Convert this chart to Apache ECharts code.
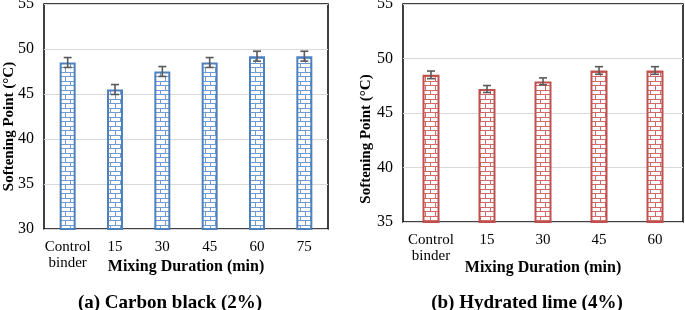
<!DOCTYPE html>
<html><head><meta charset="utf-8">
<script src="https://cdn.jsdelivr.net/npm/echarts@6/dist/echarts.min.js"></script>
<style>html,body{margin:0;padding:0;background:#fff}#c{width:685px;height:310px}</style>
</head><body><div id="c"></div>
<script>
const categoriesA = ['Control\nbinder', '15', '30', '45', '60', '75'];
const valuesA = [48.5, 45.5, 47.5, 48.5, 49.2, 49.2];
const errorsA = [0.55, 0.55, 0.55, 0.55, 0.55, 0.55];
const categoriesB = ['Control\nbinder', '15', '30', '45', '60'];
const valuesB = [48.5, 47.2, 47.9, 48.9, 48.9];
const errorsB = [0.35, 0.32, 0.32, 0.35, 0.35];
const yTicksA = [30, 35, 40, 45, 50, 55];
const yTicksB = [35, 40, 45, 50, 55];
const xTitle = 'Mixing Duration (min)';
const yTitle = 'Softening Point (°C)';
const captionA = '(a) Carbon black (2%)';
const captionB = '(b) Hydrated lime (4%)';

const FONT = 'Liberation Serif';

function brick(color) {
  const c = document.createElement('canvas');
  c.width = 10; c.height = 9;
  const g = c.getContext('2d');
  g.fillStyle = '#fff'; g.fillRect(0, 0, 10, 9);
  g.fillStyle = color;
  g.fillRect(0, 0, 10, 1);
  g.fillRect(0, 4, 10, 1);
  g.fillRect(0, 0, 1, 4);
  g.fillRect(5, 4, 1, 5);
  return c;
}

function errSeries(vals, errs, xi, yi) {
  return {
    type: 'custom', xAxisIndex: xi, yAxisIndex: yi, z: 5,
    data: vals.map((v, i) => [i, v - errs[i], v + errs[i]]),
    renderItem: function (params, api) {
      const lo = api.coord([api.value(0), api.value(1)]);
      const hi = api.coord([api.value(0), api.value(2)]);
      const w = 4;
      const st = { stroke: '#595959', lineWidth: 1.6 };
      return { type: 'group', children: [
        { type: 'line', shape: { x1: hi[0], y1: hi[1], x2: lo[0], y2: lo[1] }, style: st },
        { type: 'line', shape: { x1: hi[0] - w, y1: hi[1], x2: hi[0] + w, y2: hi[1] }, style: st },
        { type: 'line', shape: { x1: lo[0] - w, y1: lo[1], x2: lo[0] + w, y2: lo[1] }, style: st }
      ]};
    }
  };
}

function xAxis(cats, gi, gap) {
  return {
    type: 'category', gridIndex: gi, data: cats,
    axisLine: { show: false }, axisTick: { show: false },
    axisLabel: { color: '#000', fontFamily: FONT, fontSize: 15, margin: 10, lineHeight: 16, interval: 0 },
    name: xTitle, nameLocation: 'middle', nameGap: gap, nameMoveOverlap: false,
    nameTextStyle: { color: '#000', fontFamily: FONT, fontSize: 16, fontWeight: 'bold' }
  };
}
function yAxis(ticks, gi, gap, shift) {
  return {
    type: 'value', gridIndex: gi, min: ticks[0], max: ticks[ticks.length - 1], interval: 5,
    axisLine: { show: false }, axisTick: { show: false },
    axisLabel: { color: '#000', fontFamily: FONT, fontSize: 16, margin: 10 },
    splitLine: { lineStyle: { color: '#d9d9d9', width: 1 } },
    name: yTitle, nameLocation: 'middle', nameGap: gap, nameMoveOverlap: false,
    nameTextStyle: { color: '#000', fontFamily: FONT, fontSize: 15, fontWeight: 'bold',
      padding: [0, shift * 2, 0, 0] }
  };
}

const chart = echarts.init(document.getElementById('c'), null, { renderer: 'canvas' });
chart.setOption({
  animation: false,
  title: [
    { text: captionA, left: 165, top: 289, textAlign: 'center',
      textStyle: { fontFamily: FONT, fontSize: 19, fontWeight: 'bold', color: '#000' } },
    { text: captionB, left: 522, top: 289, textAlign: 'center',
      textStyle: { fontFamily: FONT, fontSize: 19, fontWeight: 'bold', color: '#000' } }
  ],
  grid: [
    { left: 44, right: 357, top: 4, bottom: 81, show: true, borderColor: '#000', borderWidth: 1.5,
      outerBoundsMode: 'none', containLabel: false },
    { left: 403, right: 2, top: 4, bottom: 88, show: true, borderColor: '#000', borderWidth: 1.5,
      outerBoundsMode: 'none', containLabel: false }
  ],
  xAxis: [xAxis(categoriesA, 0, 30), xAxis(categoriesB, 1, 38)],
  yAxis: [yAxis(yTicksA, 0, 27, 10), yAxis(yTicksB, 1, 29, 26)],
  series: [
    { type: 'bar', xAxisIndex: 0, yAxisIndex: 0, data: valuesA, barWidth: 16,
      itemStyle: { color: { image: brick('#6f9ad4'), repeat: 'repeat' }, borderColor: '#4f81bd', borderWidth: 2 } },
    errSeries(valuesA, errorsA, 0, 0),
    { type: 'bar', xAxisIndex: 1, yAxisIndex: 1, data: valuesB, barWidth: 17,
      itemStyle: { color: { image: brick('#d06b69'), repeat: 'repeat' }, borderColor: '#c0504d', borderWidth: 2 } },
    errSeries(valuesB, errorsB, 1, 1)
  ]
});
</script></body></html>
